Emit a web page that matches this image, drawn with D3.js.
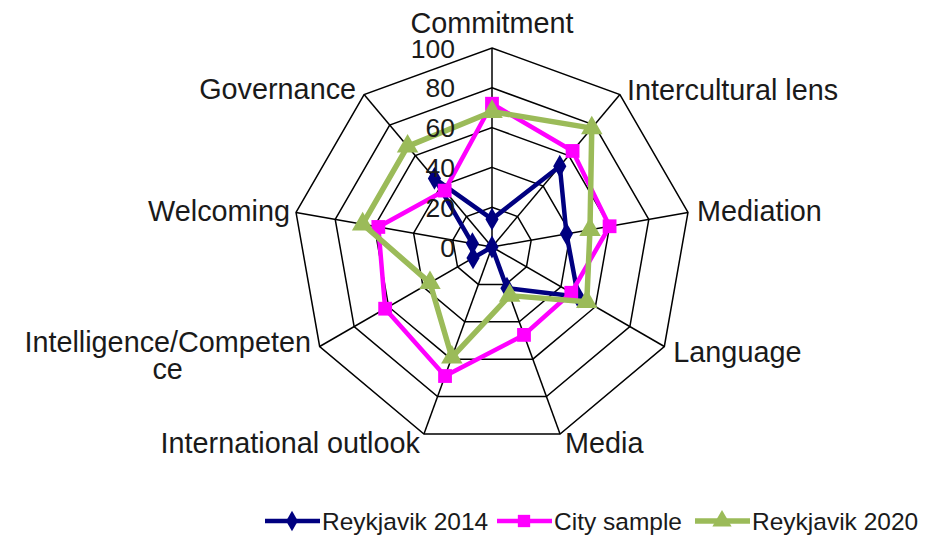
<!DOCTYPE html>
<html><head><meta charset="utf-8">
<script src="https://cdn.jsdelivr.net/npm/d3@7/dist/d3.min.js"></script>
<style>
html,body{margin:0;padding:0;background:#fff;}
text{font-family:"Liberation Sans",Arial,sans-serif;fill:#1a1a1a;}
</style></head><body>
<svg id="chart" width="940" height="537"></svg>
<script>
const categories = ["Commitment","Intercultural lens","Mediation","Language","Media","International outlook","Intelligence/Competence","Welcoming","Governance"];
const reykjavik2014 = [14, 53, 38, 50, 22, 0, 11, 10, 45];
const citySample   = [72, 63, 60, 46, 47, 69, 62, 58, 37];
const reykjavik2020 = [68, 78, 50, 55, 26, 59, 36, 66, 66];
const tickValues = [0, 20, 40, 60, 80, 100];
const seriesNames = ["Reykjavik 2014","City sample","Reykjavik 2020"];

const svg = d3.select("#chart");
const cx = 492, cy = 247, R = 199;
const r = d3.scaleLinear().domain([0,100]).range([0,R]);
const n = categories.length;
const ang = d3.scaleLinear().domain([0,n]).range([0,2*Math.PI]);
const pt = (i,v) => [cx + r(v)*Math.sin(ang(i)), cy - r(v)*Math.cos(ang(i))];

// grid rings
const g = svg.append("g");
tickValues.slice(1).forEach(t => {
  const pts = d3.range(n).map(i => pt(i,t));
  g.append("polygon").attr("points", pts.map(p=>p.join(",")).join(" "))
    .attr("fill","none").attr("stroke","#000").attr("stroke-width",1.5);
});
// spokes
d3.range(n).forEach(i => {
  const [x,y] = pt(i,100);
  g.append("line").attr("x1",cx).attr("y1",cy).attr("x2",x).attr("y2",y)
    .attr("stroke","#000").attr("stroke-width",1.5);
});

const series = [
  {name:seriesNames[0], values:reykjavik2014, color:"#000080", sym:d3.symbolDiamond, size:150, w:4.5},
  {name:seriesNames[1], values:citySample, color:"#ff00ff", sym:d3.symbolSquare, size:190, w:4.5},
  {name:seriesNames[2], values:reykjavik2020, color:"#9bbb59", sym:d3.symbolTriangle, size:200, w:5.5}
];
const line = d3.lineRadial().angle((d,i)=>ang(i)).radius(d=>r(d)).curve(d3.curveLinearClosed);
series.forEach(s => {
  const sg = svg.append("g").attr("transform",`translate(${cx},${cy})`);
  sg.append("path").attr("d", line(s.values)).attr("fill","none")
    .attr("stroke",s.color).attr("stroke-width",s.w).attr("stroke-linejoin","round");
  s.values.forEach((v,i) => {
    const [x,y] = pt(i,v);
    svg.append("path").attr("d", d3.symbol().type(s.sym).size(s.size)())
      .attr("transform",`translate(${x},${y})`).attr("fill",s.color);
  });
});

// tick labels
tickValues.forEach(t => {
  svg.append("text").attr("x", cx-37).attr("y", cy - r(t))
    .attr("dy","0.36em").attr("text-anchor","end").attr("font-size",26.5).text(t);
});

// category labels
const labelPos = [
  {dx:0, dy:-15, anchor:"middle"},
  {dx:7, dy:5, anchor:"start"},
  {dx:9, dy:9, anchor:"start"},
  {dx:9, dy:15, anchor:"start"},
  {dx:5, dy:19, anchor:"start"},
  {dx:-4, dy:19, anchor:"end"},
  {dx:-152, dy:5, anchor:"middle"},
  {dx:-6, dy:9, anchor:"end"},
  {dx:-8, dy:4, anchor:"end"}
];
categories.forEach((c,i) => {
  const [x,y] = pt(i,100);
  const lp = labelPos[i];
  const t = svg.append("text").attr("x", x+lp.dx).attr("y", y+lp.dy)
    .attr("text-anchor", lp.anchor).attr("font-size",28.8);
  if (c === "Intelligence/Competence") {
    t.append("tspan").attr("x", x+lp.dx).text("Intelligence/Competen");
    t.append("tspan").attr("x", x+lp.dx).attr("dy", 27).text("ce");
  } else t.text(c);
});

// legend
const leg = svg.append("g");
const legX = [265, 497, 695];
series.forEach((s,i) => {
  const x0 = legX[i], y0 = 521;
  leg.append("line").attr("x1",x0).attr("x2",x0+55).attr("y1",y0).attr("y2",y0)
    .attr("stroke",s.color).attr("stroke-width",s.w);
  leg.append("path").attr("d", d3.symbol().type(s.sym).size(s.size*0.8)())
    .attr("transform",`translate(${x0+27},${y0})`).attr("fill",s.color);
  leg.append("text").attr("x",x0+57).attr("y",y0).attr("dy","0.36em")
    .attr("font-size",24.5).text(s.name);
});
</script>
</body></html>
